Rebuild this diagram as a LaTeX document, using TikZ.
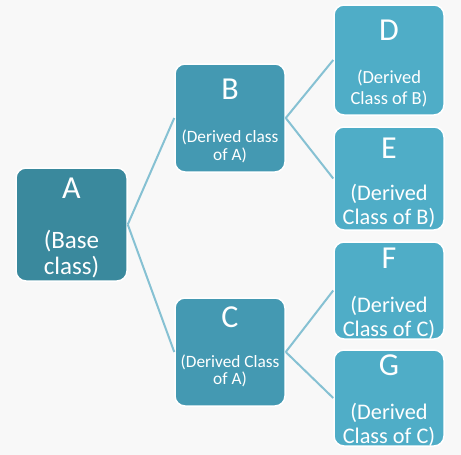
\documentclass[tikz,border=0pt]{standalone}
\usepackage{fontspec}
\setmainfont{Carlito}
\definecolor{bgc}{HTML}{F8F8F8}
\definecolor{cA}{HTML}{3A899D}
\definecolor{cB}{HTML}{4499B2}
\definecolor{cD}{HTML}{4FADC7}
\definecolor{lnc}{HTML}{86C1D3}
\tikzset{
  box/.style={draw=white, line width=1.5pt, rounded corners=10pt, inner sep=0pt},
  big/.style={text=white, font=\fontsize{32}{32}\selectfont, inner sep=0pt},
  mid/.style={text=white, font=\fontsize{22.3}{22.3}\selectfont, inner sep=0pt},
  basefont/.style={text=white, font=\fontsize{25}{25}\selectfont, inner sep=0pt},
  sml/.style={text=white, font=\fontsize{17.3}{17.3}\selectfont, inner sep=0pt},
  smd/.style={text=white, font=\fontsize{18.5}{18.5}\selectfont, inner sep=0pt},
  lnk/.style={draw=lnc, line width=2pt}
}
\begin{document}
\begin{tikzpicture}[x=1pt,y=-1pt]
\fill[bgc] (0,0) rectangle (461,455);
\useasboundingbox (0,0) rectangle (461,455);
% boxes
\node[box, fill=cA, minimum width=111pt, minimum height=113pt] (A) at (71.5,224.5) {};
\node[box, fill=cB, minimum width=110pt, minimum height=108pt] (B) at (230,118) {};
\node[box, fill=cB, minimum width=110pt, minimum height=108pt] (C) at (230,352) {};
\node[box, fill=cD, minimum width=110pt, minimum height=110pt] (D) at (389,60) {};
\node[box, fill=cD, minimum width=110pt, minimum height=103pt] (E) at (389,178.5) {};
\node[box, fill=cD, minimum width=110pt, minimum height=97pt] (F) at (389,290.5) {};
\node[box, fill=cD, minimum width=110pt, minimum height=96pt] (G) at (389,398) {};
% connectors
\draw[lnk] (A.east) -- (B.west);
\draw[lnk] (A.east) -- (C.west);
\draw[lnk] (B.east) -- (D.west);
\draw[lnk] (B.east) -- (E.west);
\draw[lnk] (C.east) -- (F.west);
\draw[lnk] (C.east) -- (G.west);
% texts
\node[big] (At) at (71.5,188) {A};
\node[basefont] (A1) at (71.5,241) {(Base};
\node[basefont] (A2) at (71.5,267) {class)};
\node[big] (Bt) at (230,89) {B};
\node[sml] (B1) at (230,137) {(Derived class};
\node[sml] (B2) at (230,155) {of A)};
\node[big] (Ct) at (230,317) {C};
\node[sml] (C1) at (230,362) {(Derived Class};
\node[sml] (C2) at (230,379) {of A)};
\node[big] (Dt) at (389,30) {D};
\node[smd] (D1) at (389,78) {(Derived};
\node[smd] (D2) at (389,99) {Class of B)};
\node[big] (Et) at (389,148) {E};
\node[mid] (E1) at (389,194) {(Derived};
\node[mid] (E2) at (389,218) {Class of B)};
\node[big] (Ft) at (389,258) {F};
\node[mid] (F1) at (389,306) {(Derived};
\node[mid] (F2) at (389,330) {Class of C)};
\node[big] (Gt) at (389,365) {G};
\node[mid] (G1) at (389,413) {(Derived};
\node[mid] (G2) at (389,437) {Class of C)};
\end{tikzpicture}
\end{document}
